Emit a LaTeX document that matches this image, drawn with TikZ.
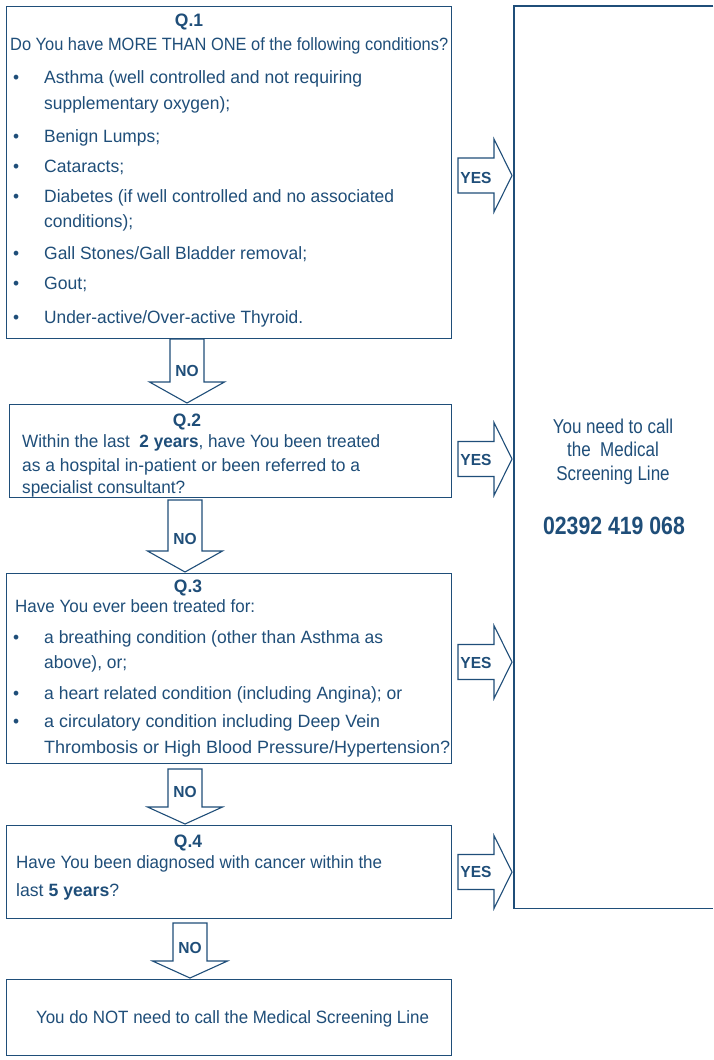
\documentclass[tikz,border=0pt]{standalone}
\usepackage{fontspec}
\usepackage{graphicx}
\setmainfont[FakeStretch=0.97]{Liberation Sans}
\newfontfamily\rfont[FakeStretch=0.85]{Liberation Sans}
\definecolor{navy}{HTML}{1F4E79}
\newcommand\tw[2]{\resizebox{#1pt}{\height}{#2}}
\newcommand\noarr[6]{%
  \draw[blk] (#2-17,#3) -- (#2+17,#3) -- (#2+17,#4) -- (#2+37.5,#4) -- (#2,#5) -- (#2-37.5,#4) -- (#2-17,#4) -- cycle;
  \node[lbl] (#1) at (#2,#6) {NO};}
\newcommand\yesarr[3]{%
  \draw[blk] (458,#2-17.5) -- (494,#2-17.5) -- (494,#2-36.5) -- (512,#2) -- (494,#2+36.5) -- (494,#2+17.5) -- (458,#2+17.5) -- cycle;
  \node[lbl] (#1) at (476,#3) {YES};}
\begin{document}
\begin{tikzpicture}[x=1pt,y=-1pt,
  box/.style={draw=navy,line width=1.2pt,inner sep=0pt,anchor=north west},
  blk/.style={draw=navy,line width=1.1pt,fill=white,line join=miter},
  txt/.style={text=navy,inner sep=0pt,anchor=base west,font=\fontsize{17.8}{20}\selectfont},
  bul/.style={text=navy,inner sep=0pt,anchor=base west,font=\fontsize{17.8}{20}\selectfont},
  ttl/.style={text=navy,inner sep=0pt,anchor=base,font=\fontsize{18}{20}\selectfont\bfseries},
  lbl/.style={text=navy,inner sep=0pt,anchor=base,font=\fontsize{16}{18}\selectfont\bfseries},
  rtxt/.style={text=navy,inner sep=0pt,anchor=base,font=\rfont\fontsize{20}{22}\selectfont},
]
\useasboundingbox (0,0) rectangle (713,1060);
\fill[white] (0,0) rectangle (713,1060);

% boxes
\node[box,minimum width=445pt,minimum height=332pt] (q1) at (6,6) {};
\node[box,minimum width=442pt,minimum height=93pt] (q2) at (9,404) {};
\node[box,minimum width=445pt,minimum height=190pt] (q3) at (6,573) {};
\node[box,minimum width=445pt,minimum height=93pt] (q4) at (6,825) {};
\node[box,minimum width=445pt,minimum height=76pt] (fin) at (6,979) {};
% right box (its right side lies beyond the picture edge)
\node[inner sep=0pt,anchor=north west,minimum width=199pt,minimum height=902pt] (rb) at (514,6) {};
\draw[draw=navy,line width=1.2pt] (rb.north east) -- (rb.north west) -- (rb.south west) -- (rb.south east);

% Q1 text
\node[ttl] (q1t) at (189,27) {Q.1};
\node[txt] (q1a) at (10,50) {\tw{438}{Do You have MORE THAN ONE of the following conditions?}};
\node[bul] (b1) at (13,83) {•};
\node[txt] (q1b) at (44,83) {\tw{318}{Asthma (well controlled and not requiring}};
\node[txt] (q1c) at (44,109) {\tw{186}{supplementary oxygen);}};
\node[bul] (b2) at (13,142) {•};
\node[txt] (q1d) at (44,142) {\tw{116}{Benign Lumps;}};
\node[bul] (b3) at (13,172) {•};
\node[txt] (q1e) at (44,172) {\tw{80}{Cataracts;}};
\node[bul] (b4) at (13,202) {•};
\node[txt] (q1f) at (44,202) {\tw{350}{Diabetes (if well controlled and no associated}};
\node[txt] (q1g) at (44,227) {\tw{89}{conditions);}};
\node[bul] (b5) at (13,259) {•};
\node[txt] (q1h) at (44,259) {\tw{263}{Gall Stones/Gall Bladder removal;}};
\node[bul] (b6) at (13,289) {•};
\node[txt] (q1i) at (44,289) {\tw{43}{Gout;}};
\node[bul] (b7) at (13,323) {•};
\node[txt] (q1j) at (44,323) {\tw{259}{Under-active/Over-active Thyroid.}};

% Q2 text
\node[ttl] (q2t) at (187,426) {Q.2};
\node[txt] (q2a) at (22,447) {\tw{358}{Within the last\ \ \textbf{2 years}, have You been treated}};
\node[txt] (q2b) at (22,471) {\tw{338}{as a hospital in-patient or been referred to a}};
\node[txt] (q2c) at (22,493) {\tw{163}{specialist consultant?}};

% Q3 text
\node[ttl] (q3t) at (188,592) {Q.3};
\node[txt] (q3a) at (15,612) {\tw{240}{Have You ever been treated for:}};
\node[bul] (b8) at (13,643) {•};
\node[txt] (q3b) at (44,643) {\tw{339}{a breathing condition (other than Asthma as}};
\node[txt] (q3c) at (44,668) {\tw{83}{above), or;}};
\node[bul] (b9) at (13,699) {•};
\node[txt] (q3d) at (44,699) {\tw{358}{a heart related condition (including Angina); or}};
\node[bul] (b10) at (13,727) {•};
\node[txt] (q3e) at (44,727) {\tw{336}{a circulatory condition including Deep Vein}};
\node[txt] (q3f) at (44,753) {\tw{406}{Thrombosis or High Blood Pressure/Hypertension?}};

% Q4 text
\node[ttl] (q4t) at (188,847) {Q.4};
\node[txt] (q4a) at (16,868) {\tw{366}{Have You been diagnosed with cancer within the}};
\node[txt] (q4b) at (16,896) {\tw{103}{last \textbf{5 years}?}};

% final
\node[txt,anchor=base] (fint) at (232.5,1023) {\tw{393}{You do NOT need to call the Medical Screening Line}};

% right box text
\node[rtxt] (r1) at (613,433) {You need to call};
\node[rtxt] (r2) at (613,456) {the\ \ Medical};
\node[rtxt] (r3) at (613,480) {Screening Line};
\node[rtxt,font=\rfont\fontsize{25}{27}\selectfont\bfseries] (r4) at (614,534) {02392 419 068};

% NO arrows
\noarr{no1}{187}{339}{382}{403}{376}
\noarr{no2}{185}{500}{551}{572}{544}
\noarr{no3}{185}{769}{807}{824}{797}
\noarr{no4}{190}{923}{961}{978}{953}

% YES arrows
\yesarr{yes1}{175.5}{183}
\yesarr{yes2}{459}{465}
\yesarr{yes3}{662}{668}
\yesarr{yes4}{872}{877}
\end{tikzpicture}
\end{document}
